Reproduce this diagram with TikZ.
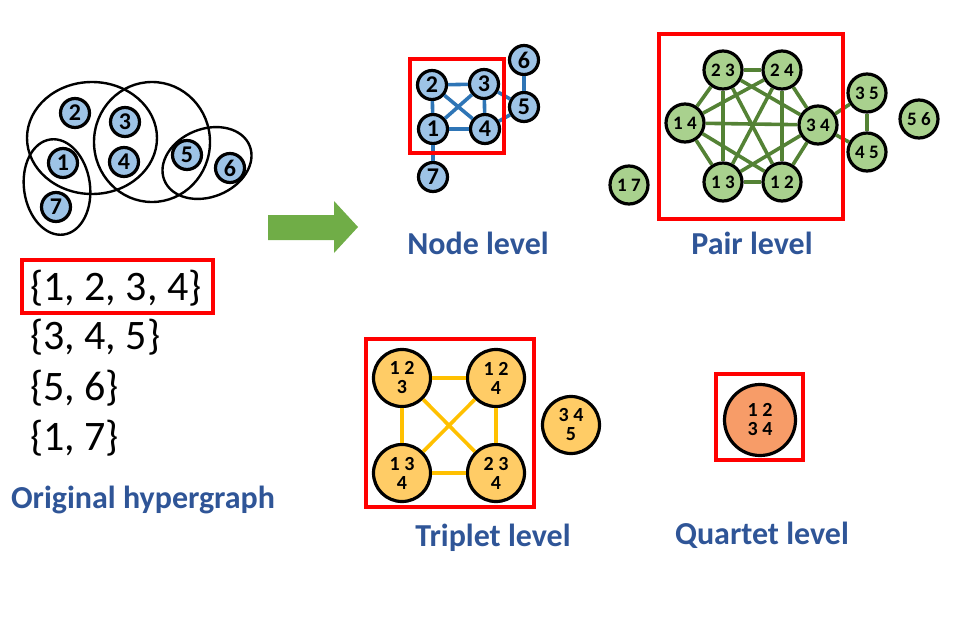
\documentclass[tikz,border=0pt]{standalone}
\usepackage{fontspec}
\setmainfont{Carlito}
\usetikzlibrary{arrows.meta}
\definecolor{nblue}{HTML}{9DC3E6}
\definecolor{eblue}{HTML}{2E75B6}
\definecolor{ngreen}{HTML}{A9D18E}
\definecolor{egreen}{HTML}{548235}
\definecolor{nyellow}{HTML}{FFCC66}
\definecolor{eyellow}{HTML}{FFC000}
\definecolor{norange}{HTML}{F79C68}
\definecolor{titleblue}{HTML}{2F5597}
\definecolor{arrowgreen}{HTML}{70AD47}
\definecolor{boxred}{HTML}{FF0000}
\tikzset{
  hnode/.style={circle,draw=black,line width=3.2pt,fill=nblue,minimum size=29pt,inner sep=0pt,font=\fontsize{24}{24}\selectfont\bfseries},
  pnode/.style={circle,draw=black,line width=3.2pt,fill=ngreen,minimum size=38pt,inner sep=0pt,font=\fontsize{19}{19}\selectfont\bfseries},
  tnode/.style={circle,draw=black,line width=3.2pt,fill=nyellow,minimum size=57pt,inner sep=0pt,align=center,font=\fontsize{20}{19}\selectfont\bfseries},
  qnode/.style={circle,draw=black,line width=3.2pt,fill=norange,minimum size=71pt,inner sep=0pt,align=center,font=\fontsize{20}{19}\selectfont\bfseries},
  hedge/.style={draw=black,line width=2.4pt},
  bedge/.style={draw=eblue,line width=3.6pt},
  gedge/.style={draw=egreen,line width=3.6pt},
  yedge/.style={draw=eyellow,line width=3.6pt},
  redbox/.style={draw=boxred,line width=3.4pt,fill=none},
  settext/.style={anchor=west,inner sep=0pt,font=\fontsize{42}{42}\selectfont},
  lvl/.style={text=titleblue,inner sep=0pt,font=\fontsize{32}{32}\selectfont\bfseries},
}
\begin{document}
\begin{tikzpicture}[x=1pt,y=-1pt]
\useasboundingbox (0,0) rectangle (960,624);

% ---------- original hypergraph ----------
\draw[hedge] (92,138) ellipse [x radius=65, y radius=56];
\draw[hedge] (152,142) ellipse [x radius=58, y radius=60];
\draw[hedge,rotate around={22:(207,163)}] (207,163) ellipse [x radius=46, y radius=34];
\draw[hedge,rotate around={8:(57,187)}] (57,187) ellipse [x radius=33, y radius=48];
\node[hnode] (h2) at (75,113) {2};
\node[hnode] (h3) at (125,122) {3};
\node[hnode] (h1) at (63,163) {1};
\node[hnode] (h4) at (124,162) {4};
\node[hnode] (h5) at (187,155) {5};
\node[hnode] (h6) at (230,168) {6};
\node[hnode] (h7) at (56,207) {7};

\node[settext] (s1) at (30,288) {\{1, 2, 3, 4\}};
\node[settext] (s2) at (30,337) {\{3, 4, 5\}};
\node[settext] (s3) at (30,388) {\{5, 6\}};
\node[settext] (s4) at (30,438) {\{1, 7\}};
\draw[redbox] (22,260) rectangle (213,313);
\node[lvl] (lorig) at (143,500) {Original hypergraph};

% ---------- arrow ----------
\fill[arrowgreen] (268,215) -- (334,215) -- (334,201) -- (358,227) -- (334,253) -- (334,240) -- (268,240) -- cycle;

% ---------- node level ----------
\node[hnode] (n2) at (432,85) {2};
\node[hnode] (n3) at (484,84) {3};
\node[hnode] (n1) at (433,129) {1};
\node[hnode] (n4) at (485,129) {4};
\node[hnode] (n5) at (524,107) {5};
\node[hnode] (n6) at (524,60) {6};
\node[hnode] (n7) at (433,177) {7};
\begin{scope}[bedge]
\draw (n2) -- (n3); \draw (n2) -- (n1); \draw (n2) -- (n4);
\draw (n3) -- (n1); \draw (n3) -- (n4); \draw (n1) -- (n4);
\draw (n3) -- (n5); \draw (n4) -- (n5); \draw (n6) -- (n5);
\draw (n1) -- (n7);
\end{scope}
\draw[redbox] (410,59) rectangle (504,153);
\node[lvl] (lnode) at (478,243) {Node level};

% ---------- pair level ----------
\node[pnode] (p23) at (723,70) {2 3};
\node[pnode] (p24) at (782,70) {2 4};
\node[pnode] (p14) at (685,123) {1 4};
\node[pnode] (p34) at (818,125) {3 4};
\node[pnode] (p13) at (723,182) {1 3};
\node[pnode] (p12) at (782,182) {1 2};
\node[pnode] (p35) at (867,93) {3 5};
\node[pnode] (p45) at (867,152) {4 5};
\node[pnode] (p56) at (919,119) {5 6};
\node[pnode] (p17) at (629,185) {1 7};
\begin{scope}[gedge]
\draw (p23) -- (p24); \draw (p23) -- (p14); \draw (p23) -- (p13);
\draw (p23) -- (p34); \draw (p23) -- (p12);
\draw (p24) -- (p14); \draw (p24) -- (p13); \draw (p24) -- (p12); \draw (p24) -- (p34);
\draw (p14) -- (p34); \draw (p14) -- (p13); \draw (p14) -- (p12);
\draw (p34) -- (p13); \draw (p34) -- (p12); \draw (p13) -- (p12);
\draw (p34) -- (p35); \draw (p34) -- (p45); \draw (p35) -- (p45);
\end{scope}
\draw[redbox] (659,34) rectangle (843,219);
\node[lvl] (lpair) at (752,243) {Pair level};

% ---------- triplet level ----------
\node[tnode] (t123) at (402,378) {1 2\\3};
\node[tnode] (t124) at (496,378) {1 2\\4};
\node[tnode] (t134) at (402,473) {1 3\\4};
\node[tnode] (t234) at (496,473) {2 3\\4};
\node[tnode] (t345) at (571,425) {3 4\\5};
\begin{scope}[yedge]
\draw (t123) -- (t124); \draw (t123) -- (t134); \draw (t123) -- (t234);
\draw (t124) -- (t134); \draw (t124) -- (t234); \draw (t134) -- (t234);
\end{scope}
\draw[redbox] (366,339) rectangle (534,507);
\node[lvl] (ltrip) at (493,538) {Triplet level};

% ---------- quartet level ----------
\node[qnode] (q1234) at (760,420) {1 2\\3 4};
\draw[redbox] (716,374) rectangle (803,460);
\node[lvl] (lquart) at (762,535) {Quartet level};
\end{tikzpicture}
\end{document}
